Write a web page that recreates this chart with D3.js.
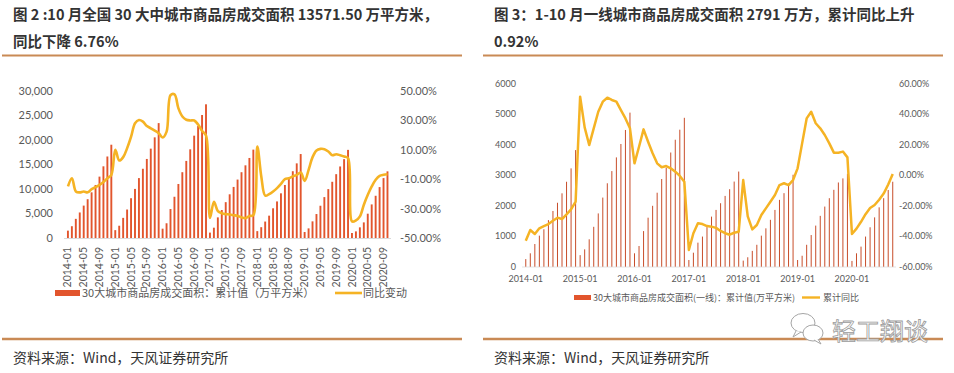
<!DOCTYPE html>
<html lang="zh">
<head>
<meta charset="utf-8">
<title>30大城市商品房成交面积</title>
<script src="https://cdn.jsdelivr.net/npm/d3@7"></script>
<style>
  body{margin:0;background:#fff;}
  svg{display:block;font-family:Lato,"Noto Sans CJK SC",sans-serif;}
  .title{font-family:"Noto Sans CJK SC",sans-serif;font-weight:bold;fill:#333;}
  .source{font-family:"Noto Sans CJK SC",sans-serif;fill:#333;font-size:14px;}
  .tick{fill:#595959;}
  .legend{font-family:"Noto Sans CJK SC",sans-serif;fill:#595959;}
</style>
</head>
<body>
<div id="chart"></div>
<script>
// ---- data ----
var years = [2014,2015,2016,2017,2018,2019,2020]

// fig 2: 30 cities, cumulative area (万平方米) and yoy (%)
var area30 = [
  1500,2400,3900,5200,6600,7900,9300,10800,12500,14600,16600,19000,
  1600,2500,4100,5800,8100,10000,12200,14100,16100,18200,20500,23400,
  1900,3000,5900,8400,11000,13400,15700,18060,20840,22800,25050,27230,
  1100,2100,4200,5700,7300,8900,10400,11900,13400,14800,16300,18000,
  1400,2200,3350,4550,6050,7450,9100,10800,12300,13600,15200,17100,
  1220,1960,3390,4880,6570,8330,9960,11450,13000,14570,16060,17950,
  1020,1350,2170,3180,4950,6840,8600,10370,12200,13571.5
]
var yoy30 = [
  -15,-9.4,-18.4,-19,-18.4,-19,-16.8,-15.5,-13.9,-12,-9.4,-7.1,
  9.8,2.6,4.9,11,18.8,27.9,30.1,29,26,24.5,22.9,21.1,
  18.2,22.2,47,47.5,38,32.5,30.3,29.8,29.8,27,22.6,19.5,
  -36.4,-25.4,-31.7,-33.2,-33.8,-34,-34.5,-35,-36,-36.5,-35,-34.5,
  12,-8.2,-21.3,-20.2,-18.4,-16.1,-13.2,-10,-9.4,-8.2,-7.1,-5.5,
  -11.2,-3.7,4.9,9.4,10.5,10.3,8.7,6.2,6.9,6.2,5.3,4.2,
  -38.7,-38,-35.3,-27.4,-20.7,-15,-10.5,-7.8,-7.1,-6.76
]
// fig 3: tier-1 cities, cumulative area and cumulative yoy (%)
var areaT1 = [
  250,440,745,1020,1230,1530,1830,2100,2410,2790,3230,3830,
  380,570,900,1310,1750,2270,2740,3140,3590,4030,4490,5060,
  440,680,1170,1610,2000,2430,2880,3250,3750,4170,4500,4890,
  220,460,790,990,1300,1645,1865,2085,2325,2545,2796,3125,
  200,310,520,720,1020,1260,1540,1865,2195,2415,2690,3020,
  220,360,720,1040,1350,1670,1975,2250,2525,2766,2900,3050,
  190,440,660,990,1295,1620,1950,2250,2520,2791
]
var yoyT1 = [
  -42.9,-35.9,-38.5,-34.8,-33.3,-32,-29.8,-27.8,-28.7,-25.6,-22.3,-17.3,
  51.7,31.5,19.9,30.9,41.8,48.4,51,49.5,48.4,42.9,37.4,30.9,
  7.9,18.8,30.2,22.1,14.5,7.9,5.3,6.1,4.6,2.4,-0.4,-4.2,
  -49,-38,-31.5,-32,-33.3,-33.7,-34.5,-36.5,-38,-39,-37.7,-37,
  -3.1,-27,-35.5,-32.6,-26,-21.7,-17.3,-12.9,-6.4,-5.2,-6.4,-3.1,
  4.6,21,37.4,41.8,34.2,30.9,26.5,21,14.9,14.9,15.6,11.8,
  -38.5,-35,-30.5,-25.5,-21.5,-19.5,-16,-12,-6,0.92
]

var leftTicks = [0,5000,10000,15000,20000,25000,30000]
var leftPct = [-50,-30,-10,10,30,50]
var rightTicks = [0,1000,2000,3000,4000,5000,6000]
var rightPct = [-60,-40,-20,0,20,40,60]

// month labels 2014-01 .. 2020-10
var months = []
years.forEach(function(y){
  for(var m=1;m<=12;m++){
    if(y==2020 && m>10) break
    months.push(y+"-"+(m<10?"0"+m:m))
  }
})

var barColor = "#e2552d"
var lineColor = "#f5b324"
var ruleColor = "#c98a55"

var svg = d3.select("#chart").append("svg").attr("width",954).attr("height",373)

// ---------- titles, rules, sources ----------
function frame(x0,x1,lines){
  lines.forEach(function(t,i){
    svg.append("text").attr("class","title")
      .attr("x",x0+11).attr("y",20+i*27)
      .attr("font-size",14.5)
      .text(t)
  })
  svg.append("line").attr("x1",x0).attr("x2",x1).attr("y1",55.5).attr("y2",55.5)
    .attr("stroke",ruleColor).attr("stroke-width",2)
  svg.append("line").attr("x1",x0).attr("x2",x1).attr("y1",339).attr("y2",339)
    .attr("stroke",ruleColor).attr("stroke-width",2.5)
  svg.append("text").attr("class","source")
    .attr("x",x0+11).attr("y",363)
    .text("资料来源：Wind，天风证券研究所")
}
frame(2,462,["图 2 :10 月全国 30 大中城市商品房成交面积 13571.50 万平方米，","同比下降 6.76%"])
frame(483,943,["图 3：1-10 月一线城市商品房成交面积 2791 万方，累计同比上升","0.92%"])

// ---------- fig 2 ----------
function drawLeft(){
  var x = d3.scaleBand().domain(months).range([66,389.5])
  var y = d3.scaleLinear().domain([0,30000]).range([238,90.7])
  var y2 = d3.scaleLinear().domain([-50,50]).range([238,90.7])
  var g = svg.append("g")

  g.append("line").attr("x1",64).attr("x2",391).attr("y1",238.5).attr("y2",238.5)
    .attr("stroke","#d9d9d9")

  g.selectAll(".bar").data(area30).enter().append("rect")
    .attr("class","bar")
    .attr("x",function(d,i){return x(months[i])+x.bandwidth()/2-1})
    .attr("width",1.9)
    .attr("y",function(d){return y(d)})
    .attr("height",function(d){return y(0)-y(d)})
    .attr("fill",barColor)

  var line = d3.line()
    .x(function(d,i){return x(months[i])+x.bandwidth()/2})
    .y(function(d){return y2(d)})
    .curve(d3.curveCatmullRom.alpha(0.5))
  g.append("path").datum(yoy30).attr("d",line)
    .attr("fill","none").attr("stroke",lineColor).attr("stroke-width",2.6)
    .attr("stroke-linejoin","round")

  g.selectAll(".lt").data(leftTicks).enter().append("text")
    .attr("class","tick").attr("font-size",11)
    .attr("x",53).attr("y",function(d){return y(d)+4})
    .attr("text-anchor","end")
    .text(d3.format(","))
  g.selectAll(".rt").data(leftPct).enter().append("text")
    .attr("class","tick").attr("font-size",11)
    .attr("x",400).attr("y",function(d){return y2(d)+4})
    .text(function(d){return d.toFixed(2)+"%"})

  var shown = months.filter(function(m,i){return i%4==0})
  g.selectAll(".xl").data(shown).enter().append("text")
    .attr("class","tick").attr("font-size",10.5)
    .attr("text-anchor","end")
    .attr("transform",function(d){
      return "translate("+(x(d)+x.bandwidth()/2+3.5)+",247) rotate(-90)"
    })
    .text(function(d){return d})

  // legend
  g.append("rect").attr("x",55).attr("y",290).attr("width",25).attr("height",6).attr("fill",barColor)
  g.append("text").attr("class","legend").attr("font-size",11)
    .attr("x",82).attr("y",297).text("30大城市商品房成交面积：累计值（万平方米）")
  g.append("line").attr("x1",335).attr("x2",362).attr("y1",293).attr("y2",293)
    .attr("stroke",lineColor).attr("stroke-width",2.6)
  g.append("text").attr("class","legend").attr("font-size",11)
    .attr("x",363).attr("y",297).text("同比变动")
}

// ---------- fig 3 ----------
function drawRight(){
  var x = d3.scaleBand().domain(months).range([523.5,895])
  var y = d3.scaleLinear().domain([0,6000]).range([266.7,84])
  var y2 = d3.scaleLinear().domain([-60,60]).range([266.7,84])
  var g = svg.append("g")

  g.append("line").attr("x1",522).attr("x2",896).attr("y1",267).attr("y2",267)
    .attr("stroke","#e3e3e3")

  // 1px bars on fractional positions: some come out crisp, some faint, like the source
  g.selectAll(".bar").data(areaT1).enter().append("rect")
    .attr("x",function(d,i){return x(months[i])+x.bandwidth()/2-0.5})
    .attr("width",1)
    .attr("y",function(d){return y(d)})
    .attr("height",function(d){return y(0)-y(d)})
    .attr("fill","#c84e2b")

  var line = d3.line()
    .x(function(d,i){return x(months[i])+x.bandwidth()/2})
    .y(function(d){return y2(d)})
  g.append("path").datum(yoyT1).attr("d",line)
    .attr("fill","none").attr("stroke",lineColor).attr("stroke-width",2.5)
    .attr("stroke-linejoin","round")

  g.selectAll(".lt").data(rightTicks).enter().append("text")
    .attr("class","tick").attr("font-size",9)
    .attr("x",516).attr("y",function(d){return y(d)+3})
    .attr("text-anchor","end")
    .text(function(d){return d})
  g.selectAll(".rt").data(rightPct).enter().append("text")
    .attr("class","tick").attr("font-size",9)
    .attr("x",899).attr("y",function(d){return y2(d)+3})
    .text(function(d){return d.toFixed(2)+"%"})

  var jans = months.filter(function(m){return m.slice(5)=="01"})
  g.selectAll(".xl").data(jans).enter().append("text")
    .attr("class","tick").attr("font-size",9)
    .attr("text-anchor","middle")
    .attr("x",function(d){return x(d)+x.bandwidth()/2})
    .attr("y",282)
    .text(function(d){return d})

  g.append("rect").attr("x",574).attr("y",295).attr("width",17).attr("height",5).attr("fill",barColor)
  g.append("text").attr("class","legend").attr("font-size",9)
    .attr("x",593).attr("y",301).text("30大城市商品房成交面积(一线)：累计值(万平方米)")
  g.append("line").attr("x1",802).attr("x2",820).attr("y1",297.5).attr("y2",297.5)
    .attr("stroke",lineColor).attr("stroke-width",2.4)
  g.append("text").attr("class","legend").attr("font-size",9)
    .attr("x",823).attr("y",301).text("累计同比")
}

// ---------- watermark ----------
function drawMark(){
  var g = svg.append("g").attr("fill","#fff").attr("stroke","#a5a5a5").attr("stroke-width",1)
  g.append("ellipse").attr("cx",803).attr("cy",323).attr("rx",12).attr("ry",9.5)
  g.append("path").attr("d","M796,331 L793,337 L801,332")
  g.append("ellipse").attr("cx",813).attr("cy",333).attr("rx",10).attr("ry",8)
  g.append("path").attr("d","M818,339 L821,344 L814,340")
  svg.append("text").attr("x",832).attr("y",340)
    .attr("font-family","'Noto Sans CJK SC',sans-serif").attr("font-size",24)
    .attr("fill","#fff").attr("stroke","#9a9a9a").attr("stroke-width",0.8)
    .text("轻工翔谈")
}

drawLeft()
drawRight()
drawMark()
</script>
</body>
</html>
